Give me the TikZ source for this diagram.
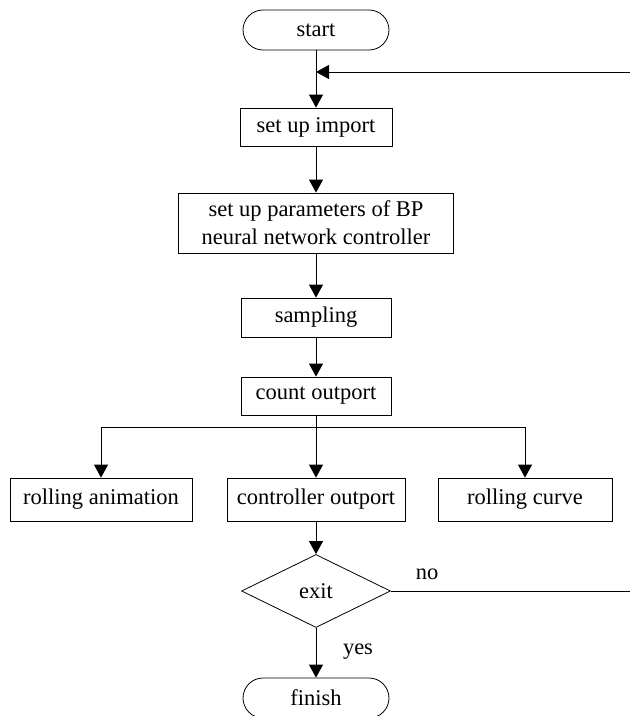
\documentclass[tikz,border=0pt]{standalone}
\usepackage{fontspec}
\setmainfont{Liberation Serif}
\usetikzlibrary{shapes.geometric,arrows.meta}
\begin{document}
\begin{tikzpicture}[x=1pt,y=-1pt,
  every node/.style={font=\fontsize{22.5}{28}\selectfont, line width=0.8pt},
  procbox/.style={draw, rectangle, inner sep=0pt, align=center},
  termbox/.style={draw, rectangle, rounded corners=20pt, inner sep=0pt, minimum width=146pt, minimum height=40pt},
  decbox/.style={draw, diamond, inner sep=0pt, minimum width=149pt, minimum height=73pt},
  conn/.style={line width=0.8pt, -{Triangle[width=14pt,length=13pt]}},
  plain/.style={line width=0.8pt}]
\useasboundingbox (0,0) rectangle (630,716);
\clip (0,0) rectangle (630,716);
\node[termbox] (start) at (316,30) {start};
\node[procbox, minimum width=152pt, minimum height=38pt] (import) at (316,127) {set up import};
\node[procbox, minimum width=275pt, minimum height=60pt] (params) at (316,223) {set up parameters of BP\\neural network controller};
\node[procbox, minimum width=150pt, minimum height=39pt] (sampling) at (316,317.5) {sampling};
\node[procbox, minimum width=150pt, minimum height=38pt] (count) at (316,396) {count outport};
\node[procbox, minimum width=182pt, minimum height=43pt] (anim) at (101,499.5) {rolling animation};
\node[procbox, minimum width=178pt, minimum height=43pt] (ctrl) at (316,499.5) {controller outport};
\node[procbox, minimum width=174pt, minimum height=43pt] (curve) at (525,499.5) {rolling curve};
\node[decbox] (exit) at (316,591) {exit};
\node[termbox] (finish) at (316,698) {finish};
\node (no) at (427,574) {no};
\node (yes) at (358,652) {yes};
\coordinate (merge) at (316,72);
\coordinate (fbtop) at (634,72);
\coordinate (fbbot) at (634,591);
\coordinate (br) at (316,427);
\draw[conn] (start.south) -- (import.north);
\draw[conn] (import.south) -- (params.north);
\draw[conn] (params.south) -- (sampling.north);
\draw[conn] (sampling.south) -- (count.north);
\draw[conn] (count.south) -- (ctrl.north);
\draw[plain] (count.south) -- (br);
\draw[conn] (br) -| (anim.north);
\draw[conn] (br) -| (curve.north);
\draw[conn] (ctrl.south) -- (exit.north);
\draw[conn] (exit.south) -- (finish.north);
\draw[conn] (exit.east) -- (fbbot) -- (fbtop) -- (merge);
\end{tikzpicture}
\end{document}
